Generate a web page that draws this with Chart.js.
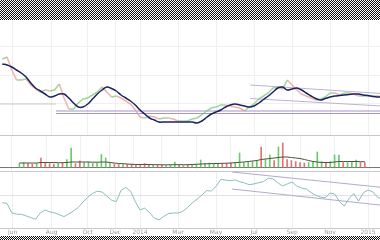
<!DOCTYPE html>
<html>
<head>
<meta charset="utf-8">
<script src="https://cdn.jsdelivr.net/npm/chart.js@4/dist/chart.umd.min.js"></script>
<style>
  html, body { margin: 0; padding: 0; background: #fff; width: 380px; height: 240px; overflow: hidden; }
  body { position: relative; }
  canvas { position: absolute; left: 0; }
  .noise { position: absolute; left: 0; width: 380px;
    background: repeating-conic-gradient(#111 0% 25%, #fff 0% 50%) 0 0 / 2px 2px; }
</style>
</head>
<body>
<div class="noise" style="top:0;height:20px"></div>
<canvas id="priceChart" width="380" height="115" style="top:20px"></canvas>
<canvas id="volumeChart" width="380" height="35" style="top:135px"></canvas>
<canvas id="indChart" width="380" height="65" style="top:171px"></canvas>
<div class="noise" style="top:236px;height:4px"></div>
<script>
// x axis: months counted from Jun 2013, one sample a week-ish (quarter month)
const tickMonths = [0.3, 2.35, 4.25, 5.7, 7, 9, 11, 13, 15, 17, 19];
const tickLabels = ['Jun', 'Aug', 'Oct', 'Dec', '2014', 'Mar', 'May', 'Jul', 'Sep', 'Nov', '2015'];
const firstMonth = -0.25;
const monthStep = 0.25;

// closing prices
const closes = [
  27.6, 27.8, 26.5, 25.5, 25.5, 25.6, 25.0, 24.6, 24.3, 24.5,
  24.4, 24.5, 25.1, 23.7, 22.6, 22.6, 23.2, 23.6, 23.7, 24.0,
  24.3, 24.8, 24.3, 23.8, 23.9, 23.7, 23.4, 23.1, 22.5, 21.8,
  21.7, 21.9, 21.8, 21.6, 21.7, 21.7, 21.6, 21.4, 21.4, 21.4,
  21.6, 21.7, 22.0, 22.4, 22.7, 22.8, 23.0, 23.0, 22.9, 22.8,
  22.7, 22.4, 22.8, 23.1, 23.6, 23.9, 24.2, 24.7, 24.8, 24.6,
  25.5, 25.0, 24.5, 24.1, 23.9, 23.7, 23.5, 23.6, 23.8, 24.2,
  24.2, 24.0, 24.2, 24.2, 24.1, 23.9, 23.9, 23.9, 23.9, 23.9, 23.8
];

// moving average of price
const priceMA = [
  27.1, 27.0, 26.8, 26.5, 26.2, 25.8, 25.2, 24.7, 24.4, 24.1,
  23.8, 23.9, 24.1, 24.1, 23.7, 23.2, 22.8, 22.8, 23.1, 23.6,
  24.1, 24.5, 24.8, 24.65, 24.4, 24.0, 23.7, 23.4, 23.0, 22.5,
  22.1, 21.7, 21.5, 21.3, 21.3, 21.3, 21.3, 21.3, 21.3, 21.3,
  21.3, 21.2, 21.4, 21.75, 22.1, 22.3, 22.5, 22.8, 23.0, 23.1,
  23.0, 22.9, 22.8, 22.9, 23.2, 23.55, 23.9, 24.3, 24.7, 24.8,
  24.5, 24.6, 24.7, 24.5, 24.2, 23.9, 23.65, 23.5, 23.65, 23.8,
  23.9, 23.95, 24.0, 24.05, 24.1, 24.1, 24.0, 23.95, 23.85, 23.8, 23.8
];

// volume and its direction (1 = up day, 0 = down day)
const volumes = [
  4, 5, 4, 3.5, 4, 9.5, 5, 4, 3.5, 4,
  4.5, 8, 19.5, 4, 6.5, 5, 5.5, 4, 4.5, 13,
  9.5, 4, 3.5, 3, 3, 3, 3.5, 2.5, 3, 4,
  3, 2.5, 2.5, 2.5, 2, 2.5, 5.5, 2.5, 2, 2.5,
  3, 3.5, 7.5, 4, 4.5, 4, 3.5, 4, 4, 4.5,
  5, 14.5, 5, 5.5, 6, 7, 20.5, 8, 12.5, 7,
  20.5, 24.5, 8, 7, 6, 5, 4.5, 5, 6, 15.5,
  6, 5, 6, 12.5, 12.5, 5, 5, 6, 7.5, 5, 5
];
const volDir = [
  1, 1, 0, 0, 1, 0, 0, 0, 0, 1,
  0, 1, 1, 0, 0, 1, 1, 1, 1, 1,
  1, 1, 0, 0, 1, 0, 0, 0, 0, 0,
  0, 1, 0, 0, 1, 1, 1, 0, 1, 0,
  1, 1, 1, 1, 1, 1, 1, 0, 0, 0,
  1, 1, 1, 1, 1, 1, 0, 1, 1, 0,
  1, 0, 0, 0, 0, 0, 0, 1, 1, 1,
  1, 0, 1, 1, 1, 0, 1, 1, 1, 0, 0
];
const volumeMA = [
  4.5, 4.5, 4.5, 4.5, 4.5, 5, 5, 5, 5, 4.8,
  4.8, 5, 5.5, 5.5, 5.5, 5.5, 5.5, 5.3, 5.3, 5.5,
  5.5, 5, 4.5, 4, 3.8, 3.5, 3.2, 3, 3, 3,
  3, 2.8, 2.8, 2.7, 2.7, 2.7, 2.8, 2.8, 2.8, 2.8,
  3, 3.2, 3.5, 3.7, 3.8, 4, 4, 4.2, 4.3, 4.5,
  4.8, 5.2, 5.5, 6, 6.5, 7, 8, 8.5, 9, 9.5,
  10, 10.5, 10.5, 10, 9.5, 9, 8, 7, 6, 5.5,
  5, 5, 5, 5.5, 6, 6, 6, 6, 6, 5.8, 5.8
];

// lower indicator
const indicator = [
  25.3, 24.6, 15.2, 13.8, 13.7, 12.1, 10.5, 8.7, 15.1, 18,
  16.1, 15.1, 13.3, 11.4, 14, 17.1, 20.6, 26, 30.7, 34.6,
  36.8, 36, 32, 27.9, 26.3, 37.7, 40.5, 36.8, 26.5, 18,
  19.9, 15.5, 9.9, 8.2, 11.7, 14.4, 15, 15, 16.6, 20.5,
  25.2, 28.8, 32.8, 37.4, 37, 41.6, 48.5, 48, 47.3, 48.1,
  46.1, 45.1, 43.3, 44.1, 45.3, 46.4, 49.8, 49.2, 45.2, 42,
  44.1, 46, 42, 40, 39, 35.4, 32.7, 30.9, 30.2, 35,
  33.9, 26.3, 22, 29.6, 34.5, 26.9, 35.1, 38, 36.1, 30.6, 29
];

// drawn lines: [month, value] pairs
const supportTop = [[2.58, 22.4], [19.8, 22.4]];
const supportBottom = [[2.58, 22.15], [19.8, 22.15]];
const oldLevel = [[-0.4, 23.1], [2.58, 23.1]];
const resistLine = [[12.8, 25.0], [19.7, 24.15]];
const lowerTrend = [[12.8, 23.65], [19.7, 22.9]];
const indTop = [[11.84, 56], [19.7, 40.7]];
const indBottom = [[11.84, 39], [19.7, 22.8]];

const xMin = -0.37, xMax = 19.63;

function series(values) {
  return values.map((v, i) => ({ x: firstMonth + i * monthStep, y: v }));
}
function pairs(list) {
  return list.map(p => ({ x: p[0], y: p[1] }));
}

function xScale(showLabels) {
  return {
    type: 'linear', min: xMin, max: xMax,
    afterBuildTicks: s => { s.ticks = tickMonths.map(v => ({ value: v })); },
    afterFit: s => { s.height = showLabels ? 8 : 0; },
    grid: { color: '#efefef', tickLength: 0 },
    border: { display: showLabels, color: '#c8c8c8' },
    ticks: {
      display: showLabels, autoSkip: false, maxRotation: 0, padding: 1,
      font: { size: 6, family: 'DejaVu Sans' }, color: '#999',
      callback: (v, i) => tickLabels[i]
    }
  };
}

function yScale(min, max, lines, colorFn) {
  return {
    min, max,
    afterBuildTicks: s => { s.ticks = lines.map(v => ({ value: v })); },
    afterFit: s => { s.width = 0; },
    grid: { color: colorFn, tickLength: 0 },
    border: { display: false },
    ticks: { display: false }
  };
}

function lineSet(data, color, width, order) {
  return { type: 'line', data, borderColor: color, borderWidth: width, pointRadius: 0, fill: false, order };
}

const common = {
  responsive: false,
  animation: false,
  layout: { padding: 0 },
  plugins: { legend: { display: false }, tooltip: { enabled: false } }
};

// price panel
new Chart(document.getElementById('priceChart'), {
  type: 'line',
  data: {
    datasets: [
      Object.assign(lineSet(series(priceMA), '#1c2160', 1.5, 0), { tension: 0.4 }),
      Object.assign(lineSet(series(closes), '#e7b3a8', 1.5, 1), {
        segment: { borderColor: c => c.p1.parsed.y >= c.p0.parsed.y ? 'rgba(120,195,120,0.7)' : 'rgba(232,150,135,0.7)' }
      }),
      lineSet(pairs(supportTop), '#a793cc', 1, 2),
      lineSet(pairs(supportBottom), '#a793cc', 1, 2),
      lineSet(pairs(oldLevel), '#c9c9c9', 1, 2),
      lineSet(pairs(resistLine), '#bdb3d3', 1, 2),
      lineSet(pairs(lowerTrend), '#bdb3d3', 1, 2)
    ]
  },
  options: Object.assign({}, common, {
    scales: {
      x: xScale(false),
      y: yScale(20, 31.5, [23.1, 26.0, 28.9], () => '#f0f0f0')
    }
  })
});

// volume panel
new Chart(document.getElementById('volumeChart'), {
  type: 'bar',
  data: {
    datasets: [
      lineSet(series(volumeMA), '#4f4f3a', 1, 0),
      {
        type: 'bar', order: 1,
        data: series(volumes),
        backgroundColor: volDir.map(d => d ? '#6acb6a' : '#e57373'),
        barThickness: 1
      }
    ]
  },
  options: Object.assign({}, common, {
    scales: {
      x: xScale(false),
      y: yScale(-2.5, 32.5, [0, 32.5], c => c.tick.value === 0 ? '#777' : '#c8c8c8')
    }
  })
});

// indicator panel
new Chart(document.getElementById('indChart'), {
  type: 'line',
  data: {
    datasets: [
      lineSet(series(indicator), '#8cbcbc', 1, 0),
      lineSet(pairs(indTop), '#b3a9cf', 1, 1),
      lineSet(pairs(indBottom), '#b3a9cf', 1, 1)
    ]
  },
  options: Object.assign({}, common, {
    scales: {
      x: xScale(true),
      y: yScale(0, 57, [32.5, 57], c => c.tick.value === 57 ? '#c8c8c8' : '#e2e2e2')
    }
  })
});
</script>
</body>
</html>
